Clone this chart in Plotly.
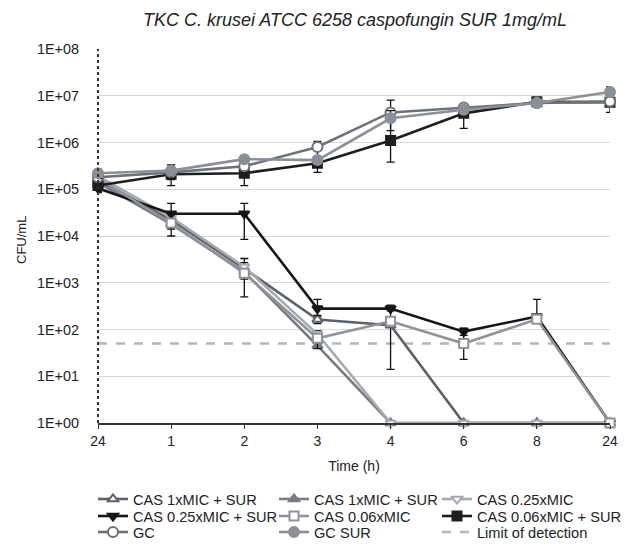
import numpy as np
import plotly.graph_objects as go

nan = np.nan

categories = ["24", "1", "2", "3", "4", "6", "8", "24"]
y_tickvals = [1, 10, 100, 1e3, 1e4, 1e5, 1e6, 1e7, 1e8]
y_ticktext = ["1E+00", "1E+01", "1E+02", "1E+03", "1E+04", "1E+05", "1E+06", "1E+07", "1E+08"]

cas1_sur_open = [1.6e5, 2.2e4, 2.0e3, 1.64e2, 1.24e2, 1, 1, 1]
cas1_sur_fill = [1.4e5, 1.8e4, 1.7e3, 4.5e1, 1, 1, 1, 1]
cas025 = [1.9e5, 2.5e4, 2.2e3, 8.0e1, 1, 1, 1, 1]
cas025_sur = [1.05e5, 3.0e4, 3.0e4, 2.8e2, 2.8e2, 9.0e1, 1.9e2, 1]
cas006 = [1.7e5, 1.9e4, 1.6e3, 6.5e1, 1.5e2, 5.0e1, 1.65e2, 1]
cas006_sur = [1.2e5, 2.1e5, 2.2e5, 3.6e5, 1.1e6, 4.2e6, 7.4e6, 7.3e6]
gc = [1.8e5, 2.3e5, 3.1e5, 8.0e5, 4.4e6, 5.6e6, 7.0e6, 7.5e6]
gc_sur = [2.2e5, 2.5e5, 4.4e5, 4.2e5, 3.3e6, 5.0e6, 7.0e6, 1.2e7]
limit_of_detection = 50

# error bars (plus / minus)
cas1_sur_open_ep = [4e4, 5e3, nan, 2.2e1, 2.07e2, nan, nan, nan]
cas1_sur_open_em = [4e4, 5e3, nan, 3.0e1, 1.1e2, nan, nan, nan]
cas1_sur_fill_ep = [3e4, 4e3, 1.6e3, nan, nan, nan, nan, nan]
cas1_sur_fill_em = [3e4, 4e3, 1.2e3, nan, nan, nan, nan, nan]
cas025_ep = [5e4, 5e3, 5e2, 1.5e1, nan, nan, nan, nan]
cas025_em = [5e4, 5e3, 5e2, 1.5e1, nan, nan, nan, nan]
cas025_sur_ep = [2e4, 2.0e4, 2.0e4, 1.6e2, 3e1, 1.5e1, 2.5e2, nan]
cas025_sur_em = [2e4, 2.0e4, 2.15e4, 8e1, 3e1, 1.5e1, 4e1, nan]
cas006_ep = [4e4, 4e3, 4e2, 1.0e1, 2e1, 5.7e1, 1.5e1, nan]
cas006_em = [4e4, 4e3, 4e2, 2.6e1, 2e1, 2.7e1, 1.5e1, nan]
cas006_sur_ep = [3e4, 5e4, 2.8e5, 6e4, 7.0e6, 2.2e6, 1.0e6, nan]
cas006_sur_em = [3e4, 5e4, 1.0e5, 6e4, 7.2e5, 2.2e6, 1.0e6, nan]
gc_ep = [5e4, 6e4, nan, 2.5e5, nan, nan, 5e5, 8.0e6]
gc_em = [5e4, 6e4, nan, 5.7e5, nan, nan, 5e5, 3.1e6]
gc_sur_ep = [5e4, 8e4, 6e4, nan, 1.5e6, 8e5, 5e5, 2.0e6]
gc_sur_em = [5e4, 1.3e5, 6e4, nan, 1.5e6, 8e5, 5e5, 2.0e6]

x = list(range(len(categories)))

W, H = 631, 544
FONT = "Liberation Sans, Arial, Helvetica, sans-serif"
fig = go.Figure()

# legend slot positions (left edge px, row centre px) -- 3 columns x 3 rows
col_left = [93, 274, 437]
row_y = [499, 516, 532]
legend_layout = {}
slot = [0]


def next_legend():
    i = slot[0]
    slot[0] += 1
    r, c = i // 3, i % 3
    key = "legend" if i == 0 else f"legend{i + 1}"
    legend_layout[key] = dict(
        xref="container", yref="container",
        x=col_left[c] / W, y=1 - row_y[r] / H,
        xanchor="left", yanchor="middle", orientation="v",
        font=dict(family=FONT, size=14.6, color="#222"),
        bgcolor="rgba(0,0,0,0)", itemwidth=30, borderwidth=0,
    )
    return key


def add(name, y, ep, em, color, symbol, filled, size=9):
    fig.add_trace(go.Scatter(
        x=x, y=y, name=name, mode="lines+markers", legend=next_legend(),
        line=dict(color=color, width=2.6),
        marker=dict(symbol=symbol, size=size,
                    color=color if filled else "white",
                    line=dict(color=color, width=2)),
        error_y=dict(type="data", symmetric=False, array=np.array(ep, dtype=float),
                     arrayminus=np.array(em, dtype=float), color="#111111",
                     thickness=1.3, width=4),
        cliponaxis=False,
    ))


add("CAS 1xMIC + SUR", cas1_sur_open, cas1_sur_open_ep, cas1_sur_open_em, "#5b6169", "triangle-up", False)
add("CAS 1xMIC + SUR", cas1_sur_fill, cas1_sur_fill_ep, cas1_sur_fill_em, "#757c85", "triangle-up", True)
add("CAS 0.25xMIC", cas025, cas025_ep, cas025_em, "#a6aaaf", "triangle-down", False)
add("CAS 0.25xMIC + SUR", cas025_sur, cas025_sur_ep, cas025_sur_em, "#161616", "triangle-down", True)
add("CAS 0.06xMIC", cas006, cas006_ep, cas006_em, "#8e949b", "square", False)
add("CAS 0.06xMIC + SUR", cas006_sur, cas006_sur_ep, cas006_sur_em, "#1e1e1e", "square", True)
add("GC", gc, gc_ep, gc_em, "#6c727a", "circle", False, 10)
add("GC SUR", gc_sur, gc_sur_ep, gc_sur_em, "#8a9098", "circle", True, 10)
fig.add_trace(go.Scatter(
    x=x, y=[limit_of_detection] * len(x), name="Limit of detection", mode="lines",
    legend=next_legend(), line=dict(color="#b3b6ba", width=2.6, dash="dash"),
))

# draw the detection limit beneath the data series
fig.data = (fig.data[-1],) + fig.data[:-1]

fig.update_layout(
    width=W, height=H,
    margin=dict(l=98, r=21, t=49, b=121, autoexpand=False),
    paper_bgcolor="white", plot_bgcolor="white",
    font=dict(family=FONT, size=14, color="#222"),
    title=dict(text="TKC C. krusei ATCC 6258 caspofungin SUR 1mg/mL",
               font=dict(family=FONT, size=18, color="#222", style="italic"),
               x=355 / W, xref="container", xanchor="center",
               y=1 - 20 / H, yref="container", yanchor="middle"),
    showlegend=True,
    **legend_layout,
)

fig.update_xaxes(
    range=[0, 7], tickmode="array", tickvals=x, ticktext=categories,
    showgrid=False, zeroline=False, showline=True, linecolor="#333", linewidth=1.5,
    ticks="outside", ticklen=4, tickcolor="#333", tickwidth=1.3,
    title=dict(text="Time (h)", standoff=14, font=dict(size=14)),
    tickfont=dict(size=14), automargin=True,
)
fig.update_yaxes(
    type="log", range=[0, 8], tickmode="array", tickvals=y_tickvals, ticktext=y_ticktext,
    showgrid=True, gridcolor="#d8d8d8", gridwidth=1.2, zeroline=False, showline=False,
    ticks="", ticklabelstandoff=18, automargin=True,
    tickfont=dict(size=14.4),
)

fig.add_annotation(text="CFU/mL", textangle=-90, xref="paper", yref="paper",
                   x=(21 - 98) / 512, y=(423 - 240) / 374, xanchor="center", yanchor="middle",
                   showarrow=False, font=dict(family=FONT, size=13, color="#222"))

fig.add_shape(type="line", xref="paper", yref="paper", x0=0, x1=0, y0=0, y1=1,
              line=dict(color="#333", width=2, dash="dot"), layer="above")

fig.write_html("out.html")
